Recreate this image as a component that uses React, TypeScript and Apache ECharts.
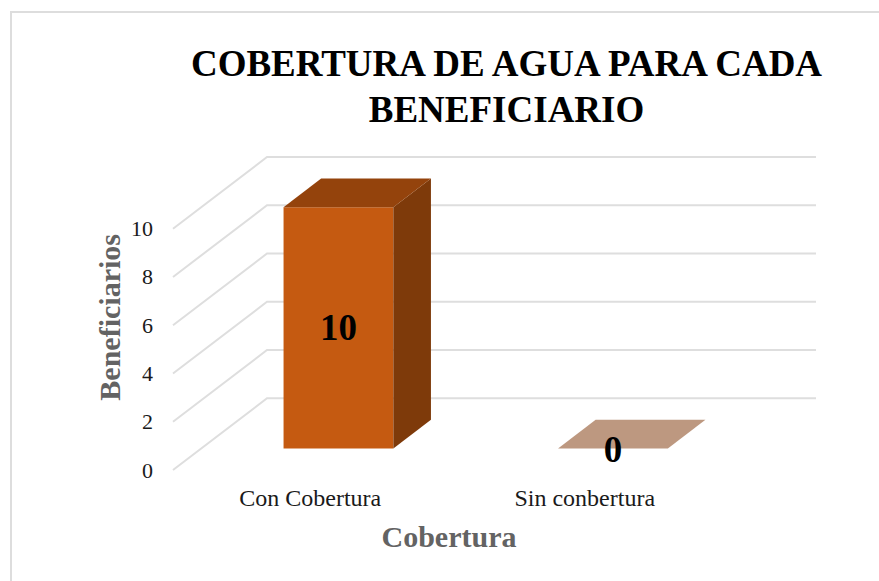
import React, { useEffect, useRef } from "react";
import * as echarts from "echarts";

const titleLines = ["COBERTURA DE AGUA PARA CADA", "BENEFICIARIO"];
const categories = ["Con Cobertura", "Sin conbertura"];
const beneficiarios = [10, 0];
const gridTicks = [0, 2, 4, 6, 8, 10];
const yAxisName = "Beneficiarios";
const xAxisName = "Cobertura";

const SERIF = '"Liberation Serif", "Times New Roman", serif';
const DEPTH_X = 94;
const DEPTH_Y = 71.7;
const BAR_FRACTION = 0.4;
const FRONT_GAP = 0.3;
const BAR_DEPTH = 0.4;

export default function App() {
  const ref = useRef<HTMLDivElement>(null);
  useEffect(() => {
    const chart = echarts.init(ref.current!, undefined, { renderer: "svg" });
    chart.setOption({
      animation: false,
      backgroundColor: "#ffffff",
      title: {
        text: titleLines.join("\n"),
        left: 501.5,
        top: 35,
        textAlign: "center",
        textStyle: {
          fontFamily: SERIF,
          fontSize: 37,
          fontWeight: "bold",
          color: "#000000",
          lineHeight: 46,
        },
      },
      graphic: [
        {
          type: "polyline",
          silent: true,
          shape: { points: [[11, 581], [11, 12], [879, 12]] },
          style: { stroke: "#DDDDDD", lineWidth: 2, fill: "none" },
        },
      ],
      grid: { left: 173, width: 549, top: 228.7, height: 241.3 },
      xAxis: {
        type: "category",
        data: categories,
        name: xAxisName,
        nameLocation: "middle",
        nameGap: 51,
        nameTextStyle: {
          fontFamily: SERIF,
          fontSize: 30,
          fontWeight: "bold",
          color: "#636363",
          padding: [0, 0, 0, 3],
        },
        axisLine: { show: false },
        axisTick: { show: false },
        axisLabel: {
          fontFamily: SERIF,
          fontSize: 24,
          color: "#1a1a1a",
          margin: 16,
        },
      },
      yAxis: {
        type: "value",
        min: 0,
        max: 10,
        interval: 2,
        name: yAxisName,
        nameLocation: "middle",
        nameGap: 49,
        nameMoveOverlap: false,
        nameRotate: 90,
        nameTextStyle: {
          fontFamily: SERIF,
          fontSize: 30,
          fontWeight: "bold",
          color: "#636363",
          padding: [0, 0, 0, 64],
        },
        axisLine: { show: false },
        axisTick: { show: false },
        splitLine: { show: false },
        axisLabel: {
          fontFamily: SERIF,
          fontSize: 22,
          color: "#1a1a1a",
          margin: 20,
        },
      },
      series: [
        {
          type: "custom",
          name: "Rejilla",
          coordinateSystem: "cartesian2d",
          silent: true,
          z: 1,
          data: gridTicks.map((t) => [0, t]),
          renderItem: (params: any, api: any) => {
            const y = api.coord([0, api.value(1)])[1];
            const x0 = params.coordSys.x;
            const w = params.coordSys.width;
            return {
              type: "polyline",
              shape: {
                points: [
                  [x0, y],
                  [x0 + DEPTH_X, y - DEPTH_Y],
                  [x0 + w + DEPTH_X, y - DEPTH_Y],
                ],
              },
              style: { stroke: "#DEDEDE", lineWidth: 2, fill: "none" },
            };
          },
        },
        {
          type: "custom",
          name: "Beneficiarios",
          coordinateSystem: "cartesian2d",
          z: 2,
          data: beneficiarios.map((v, i) => [i, v]),
          renderItem: (_params: any, api: any) => {
            const value = api.value(1);
            const [cx, base] = api.coord([api.value(0), 0]);
            const top = api.coord([api.value(0), value])[1];
            const band = api.size([1, 0])[0];
            const w = band * BAR_FRACTION;
            const ox = DEPTH_X * FRONT_GAP;
            const oy = DEPTH_Y * FRONT_GAP;
            const dx = DEPTH_X * BAR_DEPTH;
            const dy = DEPTH_Y * BAR_DEPTH;
            const l = cx - w / 2 + ox;
            const r = cx + w / 2 + ox;
            const t = top - oy;
            const b = base - oy;
            const children: any[] = [];
            if (value > 0) {
              children.push(
                { type: "rect", shape: { x: l, y: t, width: w, height: b - t }, style: { fill: "#C55A11" } },
                {
                  type: "polygon",
                  shape: { points: [[r, t], [r + dx, t - dy], [r + dx, b - dy], [r, b]] },
                  style: { fill: "#7E3A0A" },
                }
              );
            }
            children.push({
              type: "polygon",
              shape: { points: [[l, t], [l + dx, t - dy], [r + dx, t - dy], [r, t]] },
              style: { fill: value > 0 ? "#94430C" : "#BD9880" },
            });
            children.push({
              type: "text",
              style: {
                text: String(value),
                x: (l + r) / 2,
                y: value > 0 ? (t + b) / 2 : t + 1,
                align: "center",
                verticalAlign: "middle",
                fontFamily: SERIF,
                fontSize: 37,
                fontWeight: "bold",
                fill: "#000000",
              },
            });
            return { type: "group", children };
          },
        },
      ],
    });
    return () => chart.dispose();
  }, []);
  return <div ref={ref} style={{ position: "absolute", left: 0, top: 0, width: 879, height: 581 }} />;
}
